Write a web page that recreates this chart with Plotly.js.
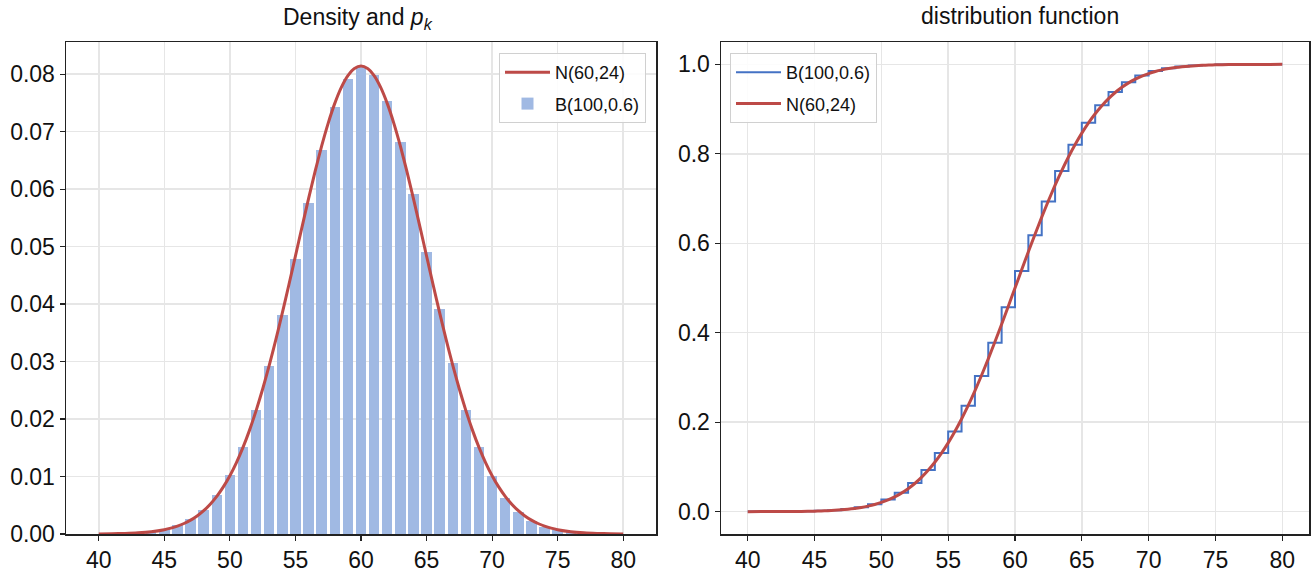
<!DOCTYPE html>
<html>
<head>
<meta charset="utf-8">
<script src="https://cdn.plot.ly/plotly-3.0.1.min.js"></script>
<style>html,body{margin:0;padding:0;background:#fff;}#chart{width:1312px;height:575px;}</style>
</head>
<body>
<div id="chart"></div>
<script>
// ---- Data ----
const kValues = [40,41,42,43,44,45,46,47,48,49,50,51,52,53,54,55,56,57,58,59,60,
  61,62,63,64,65,66,67,68,69,70,71,72,73,74,75,76,77,78,79,80];
const binomPmf = [0.00002,0.00005,0.00011,0.00023,0.00044,0.00083,0.00149,0.00256,0.00424,0.00676,0.01034,
  0.01520,0.02149,0.02919,0.03811,0.04781,0.05763,0.06673,0.07421,0.07924,0.08122,
  0.07989,0.07538,0.06820,0.05914,0.04913,0.03908,0.02975,0.02166,0.01507,0.01001,
  0.00634,0.00383,0.00221,0.00121,0.00063,0.00031,0.00015,0.00006,0.00003,0.00001];
const binomCdf = [0.00004,0.00009,0.00020,0.00043,0.00088,0.00171,0.00319,0.00576,0.01000,0.01676,0.02710,
  0.04230,0.06379,0.09298,0.13109,0.17890,0.23653,0.30326,0.37747,0.45671,0.53793,
  0.61781,0.69319,0.76139,0.82053,0.86966,0.90874,0.93849,0.96015,0.97522,0.98522,
  0.99157,0.99540,0.99760,0.99881,0.99944,0.99975,0.99989,0.99996,0.99998,0.99999];

const xCurve = [40,41,42,43,44,45,45.5,46,46.5,47,47.5,48,48.5,49,49.5,50,50.5,51,51.5,52,52.5,
  53,53.5,54,54.5,55,55.5,56,56.5,57,57.5,58,58.5,59,59.5,60,60.5,61,61.5,62,62.5,63,63.5,
  64,64.5,65,65.5,66,66.5,67,67.5,68,68.5,69,69.5,70,70.5,71,71.5,72,72.5,73,73.5,74,74.5,
  75,76,77,78,79,80];
const normalPdf = [0.0000196,0.0000442,0.0000953,0.000198,0.000393,0.000750,0.001020,0.001372,0.001827,
  0.002408,0.003141,0.004054,0.005178,0.006547,0.008190,0.010139,0.012424,0.015063,0.018074,0.021465,
  0.025226,0.029339,0.033770,0.038465,0.043362,0.048373,0.053405,0.058348,0.063090,0.067509,0.071489,
  0.074920,0.077702,0.079752,0.081008,0.081431,0.081008,0.079752,0.077702,0.074920,0.071489,0.067509,
  0.063090,0.058348,0.053405,0.048373,0.043362,0.038465,0.033770,0.029339,0.025226,0.021465,0.018074,
  0.015063,0.012424,0.010139,0.008190,0.006547,0.005178,0.004054,0.003141,0.002408,0.001827,0.001372,
  0.001020,0.000750,0.000393,0.000198,0.0000953,0.0000442,0.0000196];
const normalCdf = [0.00002,0.00005,0.00012,0.00026,0.00055,0.00110,0.00154,0.00213,0.00293,0.00398,
  0.00536,0.00715,0.00945,0.01237,0.01604,0.02061,0.02624,0.03310,0.04137,0.05123,0.06289,0.07652,
  0.09228,0.11034,0.13079,0.15372,0.17916,0.20711,0.23748,0.27014,0.30492,0.34155,0.37973,0.41913,
  0.45935,0.50000,0.54065,0.58087,0.62027,0.65845,0.69508,0.72986,0.76252,0.79289,0.82084,0.84628,
  0.86921,0.88966,0.90772,0.92348,0.93711,0.94877,0.95863,0.96690,0.97376,0.97939,0.98396,0.98763,
  0.99055,0.99285,0.99464,0.99602,0.99707,0.99787,0.99846,0.99890,0.99945,0.99974,0.99988,0.99995,0.99998];

const xTicks = [40,45,50,55,60,65,70,75,80];
const yTicksLeft = [0,0.01,0.02,0.03,0.04,0.05,0.06,0.07,0.08];
const yTicksLeftText = ['0.00','0.01','0.02','0.03','0.04','0.05','0.06','0.07','0.08'];
const yTicksRight = [0,0.2,0.4,0.6,0.8,1.0];
const yTicksRightText = ['0.0','0.2','0.4','0.6','0.8','1.0'];
const nameNormal = 'N(60,24)';
const nameBinom = 'B(100,0.6)';
const titleLeft = 'Density and <i>p</i><sub><i>k</i></sub>';
const titleRight = 'distribution function';

// ---- Styling ----
const RED = '#bd4a47';
const BLUE_BAR = '#a0b9e3';
const BLUE_LINE = '#4472c4';
const FONT = '"Liberation Sans",Arial,sans-serif';

const data = [
  {type:'bar', x:kValues, y:binomPmf, width:0.8, name:nameBinom, marker:{color:BLUE_BAR, line:{width:0}},
   xaxis:'x', yaxis:'y', legend:'legend', legendrank:2, legendgroup:'b1', hoverinfo:'skip'},
  {type:'scatter', mode:'lines', x:xCurve, y:normalPdf, name:nameNormal, line:{color:RED, width:3, shape:'spline', smoothing:0.6},
   xaxis:'x', yaxis:'y', legend:'legend', legendrank:1, legendgroup:'n1'},
  {type:'scatter', mode:'lines', x:kValues, y:binomCdf, name:nameBinom, line:{color:BLUE_LINE, width:2, shape:'hv'},
   xaxis:'x2', yaxis:'y2', legend:'legend2', legendrank:1, legendgroup:'b2'},
  {type:'scatter', mode:'lines', x:xCurve, y:normalCdf, name:nameNormal, line:{color:RED, width:3, shape:'spline', smoothing:0.6},
   xaxis:'x2', yaxis:'y2', legend:'legend2', legendrank:2, legendgroup:'n2'}
];

const axisCommon = {
  showline:true, linecolor:'#222', linewidth:1.5, mirror:true,
  ticks:'outside', ticklen:5, tickwidth:1.2, tickcolor:'#222',
  showgrid:true, gridcolor:'#e6e6e6', gridwidth:1.5, zeroline:false,
  tickfont:{family:FONT, size:23, color:'#111'}
};

const yDom = [1-534/575, 1-42/575];
const legendCommon = {bgcolor:'rgba(255,255,255,0.85)', bordercolor:'#d0d0d0', borderwidth:1,
  font:{family:FONT, size:18, color:'#111'}, itemwidth:45, traceorder:'grouped', tracegroupgap:5};
const layout = {
  width:1312, height:575,
  margin:{l:0,r:0,t:0,b:0},
  paper_bgcolor:'#fff', plot_bgcolor:'#fff',
  showlegend:true,
  bargap:0,
  xaxis:Object.assign({}, axisCommon, {domain:[66/1312, 656/1312], range:[37.5,82.5], tickvals:xTicks, anchor:'y'}),
  yaxis:Object.assign({}, axisCommon, {domain:yDom, range:[0,0.0856], tickvals:yTicksLeft, ticktext:yTicksLeftText, anchor:'x'}),
  xaxis2:Object.assign({}, axisCommon, {domain:[721/1312, 1309/1312], range:[38,82], tickvals:xTicks, anchor:'y2'}),
  yaxis2:Object.assign({}, axisCommon, {domain:yDom, range:[-0.05,1.05], tickvals:yTicksRight, ticktext:yTicksRightText, anchor:'x2'}),
  legend:Object.assign({}, legendCommon, {x:646/1312, xanchor:'right', y:1-53/575, yanchor:'top'}),
  legend2:Object.assign({}, legendCommon, {x:730/1312, xanchor:'left', y:1-53/575, yanchor:'top'}),
  annotations:[
    {text:titleLeft, xref:'paper', yref:'paper', x:358/1312, y:1-19/575, xanchor:'center', yanchor:'middle',
     showarrow:false, font:{family:FONT, size:23, color:'#111'}},
    {text:titleRight, xref:'paper', yref:'paper', x:1020/1312, y:1-16/575, xanchor:'center', yanchor:'middle',
     showarrow:false, font:{family:FONT, size:23, color:'#111'}}
  ]
};

Plotly.newPlot('chart', data, layout, {displayModeBar:false, staticPlot:true});
</script>
</body>
</html>
